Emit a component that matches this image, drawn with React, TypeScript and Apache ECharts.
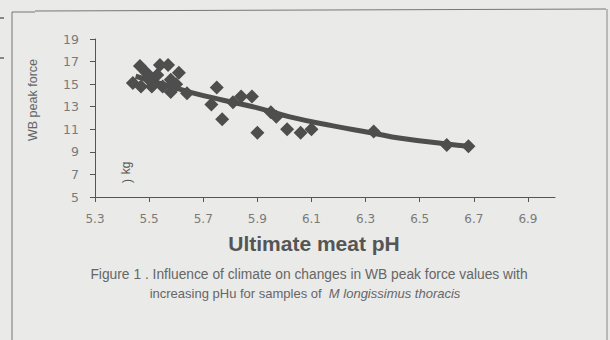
import React, { useEffect, useRef } from "react";
import * as echarts from "echarts";

const xTickValues = [5.3, 5.5, 5.7, 5.9, 6.1, 6.3, 6.5, 6.7, 6.9];
const pH = [5.44, 5.466, 5.49, 5.53, 5.54, 5.57, 5.61, 5.47, 5.51, 5.55, 5.58, 5.64, 5.5, 5.58, 5.6, 5.75, 5.73, 5.77, 5.81, 5.84, 5.88, 5.95, 5.97, 5.9, 6.01, 6.06, 6.1, 6.33, 6.6, 6.68];
const force = [15.1, 16.6, 16.0, 15.8, 16.7, 16.7, 16.0, 14.8, 14.8, 14.8, 14.3, 14.2, 15.4, 15.4, 15.0, 14.7, 13.2, 11.9, 13.4, 13.9, 13.9, 12.5, 12.1, 10.7, 11.0, 10.7, 11.0, 10.8, 9.6, 9.5];
const fitPH = [5.45, 5.55, 5.65, 5.77, 5.9, 6.02, 6.18, 6.32, 6.43, 6.6, 6.68];
const fitForce = [15.7, 15.0, 14.3, 13.6, 12.9, 12.1, 11.3, 10.7, 10.2, 9.7, 9.5];

export default function App() {
  const ref = useRef<HTMLDivElement>(null);
  useEffect(() => {
    document.body.style.margin = "0";
    const chart = echarts.init(ref.current!, null, { renderer: "svg" });
    const textColor = "#666";
    const dark = "#4e4e4e";
    chart.setOption({
      animation: false,
      backgroundColor: "#eaeae8",
      grid: { left: 95, right: 55, top: 39, bottom: 143 },
      xAxis: {
        type: "value",
        min: 5.3,
        max: 7.0,
        interval: 0.2,
        axisLine: { lineStyle: { color: "#555", width: 1 } },
        axisTick: { show: true, length: 5, inside: false, customValues: xTickValues, lineStyle: { color: "#555" } },
        axisLabel: {
          customValues: xTickValues,
          color: "#7a7a7a",
          fontFamily: "DejaVu Sans",
          fontSize: 12,
          margin: 16,
          formatter: (v: number) => v.toFixed(1),
        },
        splitLine: { show: false },
      },
      yAxis: {
        type: "value",
        min: 5,
        max: 19,
        interval: 2,
        axisLine: { show: true, lineStyle: { color: "#555", width: 1 } },
        axisTick: { show: true, length: 5, lineStyle: { color: "#555" } },
        axisLabel: { color: "#7a7a7a", fontFamily: "DejaVu Sans", fontSize: 12.5, margin: 16 },
        splitLine: { show: false },
      },
      series: [
        {
          type: "line",
          data: fitPH.map((x, i) => [x, fitForce[i]]),
          smooth: true,
          showSymbol: false,
          lineStyle: { color: dark, width: 5 },
          z: 2,
        },
        {
          type: "scatter",
          symbol: "diamond",
          symbolSize: 14,
          data: pH.map((x, i) => [x, force[i]]),
          itemStyle: { color: dark, opacity: 1 },
          z: 3,
        },
      ],
      graphic: [
        { type: "line", shape: { x1: 12, y1: 12, x2: 12, y2: 340 }, style: { stroke: "#777", lineWidth: 1 } },
        { type: "line", shape: { x1: 12, y1: 12, x2: 35, y2: 12 }, style: { stroke: "#777", lineWidth: 1 } },
        { type: "line", shape: { x1: 35, y1: 11, x2: 606, y2: 9 }, style: { stroke: "#777", lineWidth: 1 } },
        { type: "line", shape: { x1: 607, y1: 9, x2: 607, y2: 340 }, style: { stroke: "#888", lineWidth: 1 } },
        { type: "line", shape: { x1: 0, y1: 18, x2: 4, y2: 18 }, style: { stroke: "#666", lineWidth: 1.5 } },
        { type: "line", shape: { x1: 0, y1: 58, x2: 4, y2: 58 }, style: { stroke: "#666", lineWidth: 1.5 } },
        {
          type: "text",
          x: 33,
          y: 100,
          rotation: Math.PI / 2,
          style: { text: "WB peak force", fill: textColor, font: "12.5px 'Liberation Sans'", align: "center", verticalAlign: "middle" },
        },
        {
          type: "text",
          x: 126,
          y: 168,
          rotation: Math.PI / 2,
          style: { text: "kg", fill: "#555", font: "12px 'Liberation Sans'", align: "center", verticalAlign: "middle" },
        },
        {
          type: "text",
          x: 127,
          y: 181,
          rotation: Math.PI / 2,
          style: { text: ")", fill: "#555", font: "12px 'Liberation Sans'", align: "center", verticalAlign: "middle" },
        },
        {
          type: "text",
          x: 314,
          y: 243,
          style: { text: "Ultimate meat pH", fill: "#555", font: "bold 21px 'Liberation Sans'", align: "center", verticalAlign: "middle" },
        },
        {
          type: "text",
          x: 309,
          y: 274,
          style: { text: "Figure 1 . Influence of climate on changes in WB peak force values with", fill: textColor, font: "13.8px 'Liberation Sans'", align: "center", verticalAlign: "middle" },
        },
        {
          type: "text",
          x: 305,
          y: 293,
          style: {
            text: "{n|increasing pHu for samples of  }{i|M longissimus thoracis}",
            align: "center",
            verticalAlign: "middle",
            rich: {
              n: { fill: textColor, fontFamily: "Liberation Sans", fontSize: 13 },
              i: { fill: textColor, fontFamily: "Liberation Sans", fontSize: 13, fontStyle: "italic" },
            },
          },
        },
      ],
    });
    return () => chart.dispose();
  }, []);
  return <div ref={ref} style={{ width: 610, height: 340, position: "absolute", left: 0, top: 0 }} />;
}
